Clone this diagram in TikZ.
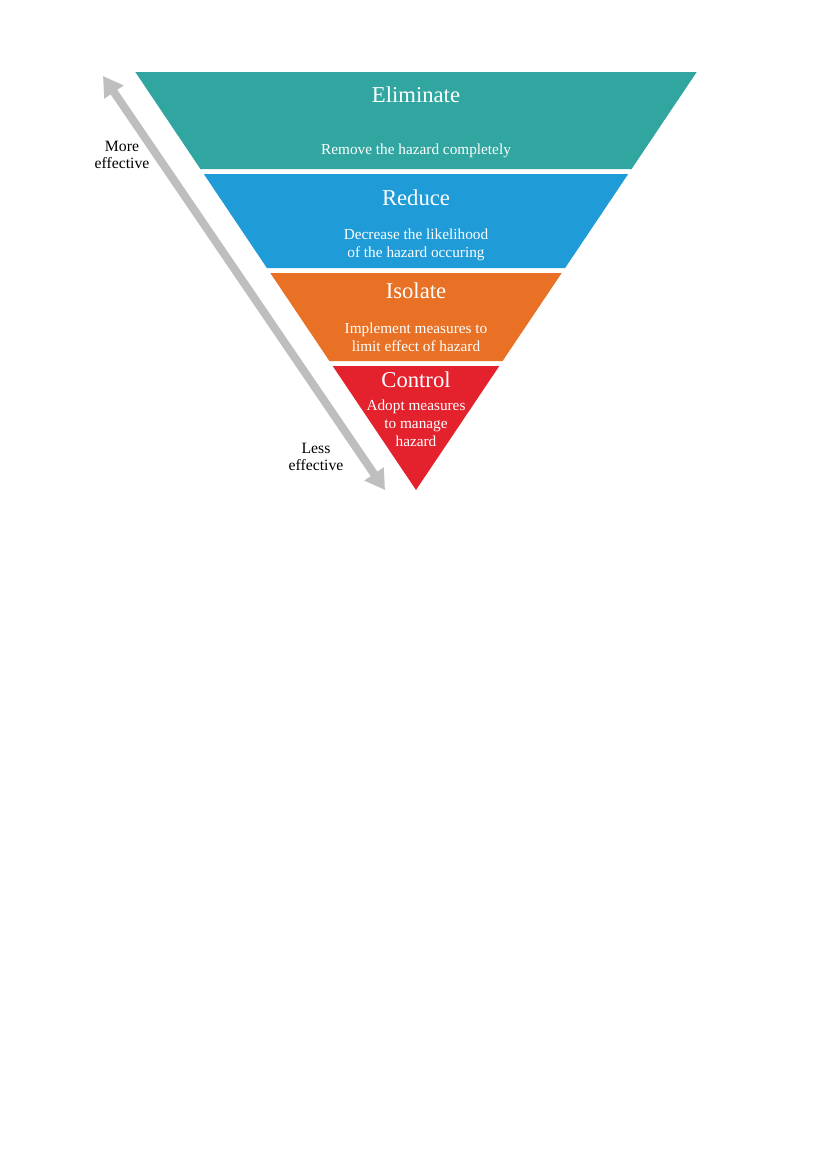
\documentclass[tikz,border=0pt]{standalone}
\usepackage{fontspec}
\setmainfont{Liberation Serif}
\usetikzlibrary{arrows.meta}
\definecolor{elimcol}{HTML}{31A6A1}
\definecolor{reducecol}{HTML}{1F9BD8}
\definecolor{isolatecol}{HTML}{E87125}
\definecolor{controlcol}{HTML}{E3222E}
\definecolor{arrowgrey}{HTML}{BEBEBE}

\begin{document}
\begin{tikzpicture}[x=0.7195pt, y=-0.7195pt,
  head/.style={font=\fontsize{16.3}{18}\selectfont, text=white},
  note/.style={font=\fontsize{11}{13}\selectfont, text=white, align=center},
  side/.style={font=\fontsize{11.3}{12.5}\selectfont, align=center}]
  \useasboundingbox (0,0) rectangle (827,1169);
  % the four layers
  \fill[elimcol] (135.3,72) -- (696.7,72) -- (631.6,169) -- (200.4,169) -- cycle;
  \fill[reducecol] (203.8,174) -- (628.2,174) -- (565.1,268) -- (266.9,268) -- cycle;
  \fill[isolatecol] (270.3,273) -- (561.7,273) -- (502.6,361) -- (329.4,361) -- cycle;
  \fill[controlcol] (332.7,366) -- (499.3,366) -- (416,490) -- cycle;
  \node[head] (elim) at (416,95) {Eliminate};
  \node[note] (elimtxt) at (416,151) {Remove the hazard completely};
  \node[head] (reduce) at (416,198) {Reduce};
  \node[note] (reducetxt) at (416,245) {Decrease the likelihood\\of the hazard occuring};
  \node[head] (isolate) at (416,291) {Isolate};
  \node[note] (isolatetxt) at (416,337) {Implement measures to\\limit effect of hazard};
  \node[head] (control) at (416,380) {Control};
  \node[note] (controltxt) at (416,423) {Adopt measures\\to manage\\hazard};
  % effectiveness arrow
  \coordinate (up) at (103,76);
  \coordinate (down) at (385,490);
  \draw[arrowgrey, line width=5.8pt, {Triangle[length=14pt,width=16pt]}-{Triangle[length=14pt,width=16pt]}] (up) -- (down);
  \node[side] (more) at (122,155) {More\\effective};
  \node[side] (less) at (316,457) {Less\\effective};
\end{tikzpicture}
\end{document}
